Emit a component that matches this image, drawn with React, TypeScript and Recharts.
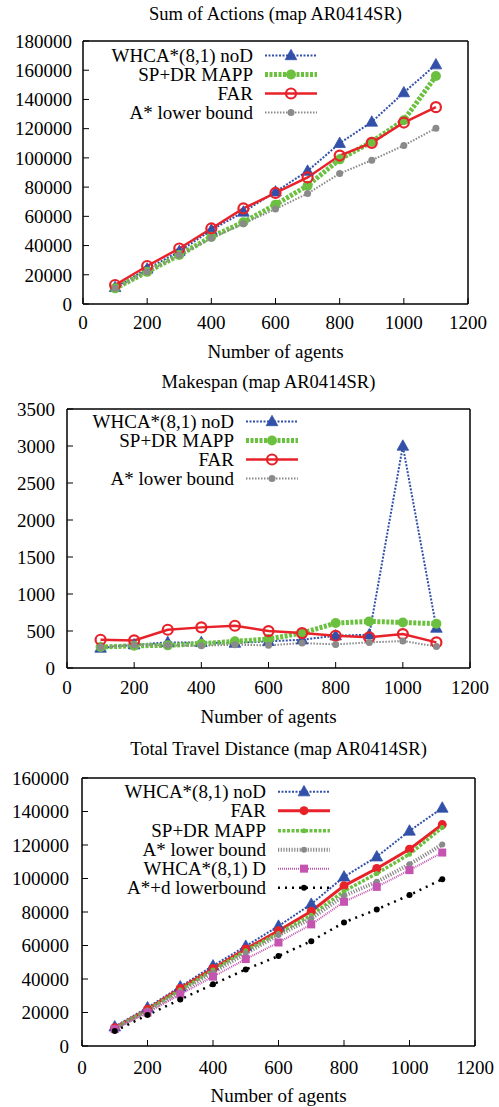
import React from 'react';
import { LineChart, Line, XAxis, YAxis } from 'recharts';

// ---------- data ----------
const agents = [100, 200, 300, 400, 500, 600, 700, 800, 900, 1000, 1100];
const xTicks = [0, 200, 400, 600, 800, 1000, 1200];

// Sum of Actions
const saWhca = [11400, 24000, 36000, 50600, 63000, 76800, 91000, 110000, 124600, 144700, 163800];
const saSpdr = [10700, 22000, 33500, 46000, 56000, 68000, 81000, 99000, 111000, 125800, 156000];
const saFar = [13000, 26000, 38000, 51700, 65400, 76000, 86600, 101600, 110300, 124200, 134700];
const saAstar = [10700, 22000, 33500, 45000, 55000, 65000, 75600, 89300, 98400, 108500, 120300];
const saTicks = [0, 20000, 40000, 60000, 80000, 100000, 120000, 140000, 160000, 180000];

// Makespan
const msWhca = [270, 315, 346, 346, 337, 360, 382, 436, 450, 3000, 540];
const msSpdr = [283, 300, 306, 328, 360, 391, 472, 607, 630, 616, 598];
const msFar = [382, 373, 517, 549, 571, 499, 472, 436, 414, 459, 346];
const msAstar = [283, 310, 306, 301, 315, 306, 337, 319, 346, 364, 292];
const msTicks = [0, 500, 1000, 1500, 2000, 2500, 3000, 3500];

// Total Travel Distance
const tdWhca = [11500, 22900, 35400, 47900, 59600, 71600, 84700, 101000, 113000, 128400, 142100];
const tdFar = [10900, 21900, 34400, 46300, 57900, 68800, 80500, 95600, 106000, 117500, 132200];
const tdSpdr = [10500, 21500, 33400, 45300, 56900, 67200, 78100, 92400, 103000, 114500, 130400];
const tdAstar = [10500, 21000, 32400, 43900, 55300, 66200, 76100, 89700, 98000, 108500, 120300];
const tdWhcaD = [10100, 19900, 30800, 41400, 51900, 61800, 72600, 86100, 95000, 105000, 115500];
const tdAstarD = [8900, 18500, 27800, 36800, 45700, 53700, 62600, 73800, 81500, 90100, 99600];
const tdTicks = [0, 20000, 40000, 60000, 80000, 100000, 120000, 140000, 160000];

// ---------- styles ----------
const FONT = '"Liberation Serif", "DejaVu Serif", serif';
const BLUE = '#3250a8';
const GREEN = '#6cc040';
const RED = '#e8222a';
const GRAY = '#8a8a8a';
const MAGENTA = '#c454b0';
const BLACK = '#000000';

type Marker = 'tri' | 'dot' | 'ring' | 'square';
interface Series {
  key: string;
  name: string;
  values: number[];
  color: string;
  width: number;
  dash?: string;
  marker: Marker;
  size: number;
}

const drawMarker = (m: Marker, size: number, color: string, cx: number, cy: number, key?: any) => {
  if (m === 'tri') {
    const h = size;
    return (
      <polygon
        key={key}
        points={`${cx},${cy - h * 0.62} ${cx - h * 0.58},${cy + h * 0.42} ${cx + h * 0.58},${cy + h * 0.42}`}
        fill={color}
        stroke={color}
        strokeWidth={0.8}
      />
    );
  }
  if (m === 'square') {
    return <rect key={key} x={cx - size / 2} y={cy - size / 2} width={size} height={size} fill={color} />;
  }
  if (m === 'ring') {
    return <circle key={key} cx={cx} cy={cy} r={size} fill="none" stroke={color} strokeWidth={2.2} />;
  }
  return <circle key={key} cx={cx} cy={cy} r={size} fill={color} />;
};

interface ChartProps {
  title: string;
  series: Series[];
  yTicks: number[];
  height: number;
  plotLeft: number;
  plotRight: number;
  plotTop: number;
  plotBottom: number;
  xTickMargin: number;
  yTickMargin: number;
  titleY: number;
  axisTitleY: number;
  legendTextRight: number;
  legendTop: number;
  legendRow: number;
}

const W = 499;
const LEG_TEXT_W = 200;

const Chart = (p: ChartProps) => {
  const data = agents.map((a, i) => {
    const row: any = { n: a };
    p.series.forEach((s) => (row[s.key] = s.values[i]));
    return row;
  });
  const yMax = p.yTicks[p.yTicks.length - 1];
  const xAxisH = 40;
  const margin = {
    top: p.plotTop - 1,
    right: W - p.plotRight - 1,
    bottom: p.height - p.plotBottom - xAxisH,
    left: 0,
  };
  const plotCenter = (p.plotLeft + p.plotRight) / 2;
  const tickStyle = { fontFamily: FONT, fontSize: 19, fill: '#000' };
  const axisLine = { stroke: '#000', strokeWidth: 1.5 };
  const tickLine = { stroke: '#000', strokeWidth: 1 };

  return (
    <div style={{ position: 'relative', width: W, height: p.height }}>
      <div
        style={{
          position: 'absolute',
          left: plotCenter - 250,
          width: 500,
          top: p.titleY - 12,
          lineHeight: '24px',
          textAlign: 'center',
          fontFamily: FONT,
          fontSize: 18.5,
          color: '#000',
          whiteSpace: 'nowrap',
        }}
      >
        {p.title}
      </div>
      <div
        style={{
          position: 'absolute',
          left: plotCenter - 250,
          width: 500,
          top: p.axisTitleY - 12,
          lineHeight: '24px',
          textAlign: 'center',
          fontFamily: FONT,
          fontSize: 19,
          color: '#000',
          whiteSpace: 'nowrap',
        }}
      >
        Number of agents
      </div>
      <div style={{ position: 'absolute', left: 0, top: 0 }}>
        <LineChart width={W} height={p.height} data={data} margin={margin}>
          <XAxis
            dataKey="n"
            type="number"
            domain={[0, 1200]}
            ticks={xTicks}
            height={xAxisH}
            tick={tickStyle}
            axisLine={axisLine}
            tickLine={tickLine}
            tickSize={-6}
            tickMargin={p.xTickMargin}
            interval={0}
          />
          <XAxis
            xAxisId="top"
            orientation="top"
            dataKey="n"
            type="number"
            domain={[0, 1200]}
            ticks={xTicks}
            height={1}
            tick={false}
            axisLine={axisLine}
            tickLine={tickLine}
            tickSize={-6}
            interval={0}
          />
          <YAxis
            type="number"
            domain={[0, yMax]}
            ticks={p.yTicks}
            width={p.plotLeft}
            tick={tickStyle}
            axisLine={axisLine}
            tickLine={tickLine}
            tickSize={-6}
            tickMargin={p.yTickMargin}
            interval={0}
          />
          <YAxis
            yAxisId="right"
            orientation="right"
            type="number"
            domain={[0, yMax]}
            ticks={p.yTicks}
            width={1}
            tick={false}
            axisLine={axisLine}
            tickLine={tickLine}
            tickSize={-6}
            interval={0}
          />
          {p.series.map((s) => (
            <Line
              key={s.key}
              dataKey={s.key}
              name={s.name}
              type="linear"
              stroke={s.color}
              strokeWidth={s.width}
              strokeDasharray={s.dash}
              isAnimationActive={false}
              activeDot={false}
              dot={(d: any) =>
                d.cx == null ? <g key={d.index} /> : drawMarker(s.marker, s.size, s.color, d.cx, d.cy, d.index)
              }
            />
          ))}
        </LineChart>
      </div>
      <div
        style={{
          position: 'absolute',
          left: p.legendTextRight - LEG_TEXT_W,
          top: p.legendTop,
          fontFamily: FONT,
          fontSize: 19,
          color: '#000',
        }}
      >
        {p.series.map((s) => (
          <div key={s.key} style={{ display: 'flex', alignItems: 'center', height: p.legendRow }}>
            <div style={{ width: LEG_TEXT_W, textAlign: 'right', lineHeight: `${p.legendRow}px`, whiteSpace: 'nowrap' }}>
              {s.name}
            </div>
            <svg width={64} height={p.legendRow} style={{ display: 'block' }}>
              <line
                x1={12}
                x2={64}
                y1={p.legendRow / 2}
                y2={p.legendRow / 2}
                stroke={s.color}
                strokeWidth={s.width}
                strokeDasharray={s.dash}
              />
              {drawMarker(s.marker, s.size, s.color, 38, p.legendRow / 2)}
            </svg>
          </div>
        ))}
      </div>
    </div>
  );
};

const seriesSA: Series[] = [
  { key: 'whca', name: 'WHCA*(8,1) noD', values: saWhca, color: BLUE, width: 2, dash: '2 1.5', marker: 'tri', size: 10 },
  { key: 'spdr', name: 'SP+DR MAPP', values: saSpdr, color: GREEN, width: 5, dash: '3 1.5', marker: 'dot', size: 5 },
  { key: 'far', name: 'FAR', values: saFar, color: RED, width: 2.5, marker: 'ring', size: 5 },
  { key: 'astar', name: 'A* lower bound', values: saAstar, color: GRAY, width: 2, dash: '1.5 1.5', marker: 'dot', size: 3.5 },
];

const seriesMS: Series[] = [
  { key: 'whca', name: 'WHCA*(8,1) noD', values: msWhca, color: BLUE, width: 2, dash: '2 1.5', marker: 'tri', size: 10 },
  { key: 'spdr', name: 'SP+DR MAPP', values: msSpdr, color: GREEN, width: 5, dash: '3 1.5', marker: 'dot', size: 5 },
  { key: 'far', name: 'FAR', values: msFar, color: RED, width: 2.5, marker: 'ring', size: 5 },
  { key: 'astar', name: 'A* lower bound', values: msAstar, color: GRAY, width: 2, dash: '1.5 1.5', marker: 'dot', size: 3.5 },
];

const seriesTD: Series[] = [
  { key: 'whca', name: 'WHCA*(8,1) noD', values: tdWhca, color: BLUE, width: 2, dash: '2 1.5', marker: 'tri', size: 10 },
  { key: 'far', name: 'FAR', values: tdFar, color: RED, width: 3, marker: 'dot', size: 4.5 },
  { key: 'spdr', name: 'SP+DR MAPP', values: tdSpdr, color: GREEN, width: 3.5, dash: '3 1.5', marker: 'dot', size: 2.5 },
  { key: 'astar', name: 'A* lower bound', values: tdAstar, color: GRAY, width: 4, dash: '1.2 1.5', marker: 'dot', size: 3 },
  { key: 'whcad', name: 'WHCA*(8,1) D', values: tdWhcaD, color: MAGENTA, width: 2, dash: '1 1', marker: 'square', size: 8 },
  { key: 'astard', name: 'A*+d lowerbound', values: tdAstarD, color: BLACK, width: 2.5, dash: '2 5', marker: 'dot', size: 3 },
];

export default function App() {
  return (
    <div style={{ position: 'absolute', left: 0, top: 0, width: W, height: 1107, background: '#fff' }}>
      <Chart
        title="Sum of Actions (map AR0414SR)"
        series={seriesSA}
        yTicks={saTicks}
        height={370}
        plotLeft={83}
        plotRight={468}
        plotTop={41}
        plotBottom={304}
        xTickMargin={18}
        yTickMargin={17}
        titleY={14}
        axisTitleY={352}
        legendTextRight={253}
        legendTop={45.5}
        legendRow={19}
      />
      <Chart
        title="Makespan (map AR0414SR)"
        series={seriesMS}
        yTicks={msTicks}
        height={370}
        plotLeft={67}
        plotRight={470}
        plotTop={39}
        plotBottom={298}
        xTickMargin={19}
        yTickMargin={18}
        titleY={12}
        axisTitleY={347}
        legendTextRight={234}
        legendTop={42}
        legendRow={19}
      />
      <Chart
        title="Total Travel Distance (map AR0414SR)"
        series={seriesTD}
        yTicks={tdTicks}
        height={367}
        plotLeft={82}
        plotRight={475}
        plotTop={38}
        plotBottom={306}
        xTickMargin={21}
        yTickMargin={19}
        titleY={9}
        axisTitleY={356}
        legendTextRight={266}
        legendTop={42}
        legendRow={19.3}
      />
    </div>
  );
}
